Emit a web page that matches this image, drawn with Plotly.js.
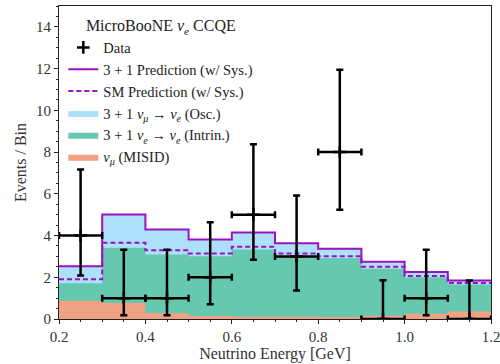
<!DOCTYPE html>
<html>
<head>
<meta charset="utf-8">
<script src="https://cdn.plot.ly/plotly-3.0.1.min.js"></script>
<style>html,body{margin:0;padding:0;background:#fff;}#chart{width:500px;height:364px;}</style>
</head>
<body>
<div id="chart"></div>
<script>
// Bin edges (GeV)
const binEdges = [0.2, 0.3, 0.4, 0.5, 0.6, 0.7, 0.8, 0.9, 1.0, 1.1, 1.2];
const binCenters = [0.25, 0.35, 0.45, 0.55, 0.65, 0.75, 0.85, 0.95, 1.05, 1.15];
// Stacked components (events / bin)
const misid  = [0.88, 0.77, 0.29, 0.14, 0.11, 0.11, 0.10, 0.16, 0.25, 0.36];
const intrin = [0.83, 2.64, 2.80, 2.87, 3.22, 2.86, 2.81, 2.25, 1.75, 1.29];
const osc    = [0.82, 1.60, 1.20, 0.80, 0.82, 0.66, 0.46, 0.33, 0.25, 0.20];
// SM prediction
const smPred = [1.90, 3.65, 3.30, 3.14, 3.46, 3.14, 3.01, 2.50, 2.06, 1.72];
// Data
const dataCounts = [4, 1, 1, 2, 5, 3, 8, 0, 1, 0];
const dataErrUp   = [3.16, 2.32, 2.32, 2.64, 3.38, 2.92, 3.94, 1.86, 2.32, 1.84];
const dataErrDown = [1.91, 0.82, 0.82, 1.29, 2.16, 1.63, 2.76, 0.0, 0.82, 0.0];
const binHalfWidth = 0.05;

const colOsc = '#ade0fa', colIntr = '#66c8ae', colMis = '#f0a184', colPurple = '#9a12c2';
const serif = 'Liberation Serif, Times New Roman, serif';

function step(vals) { return vals.concat([vals[vals.length - 1]]); }
const stackIntr = misid.map((v, i) => v + intrin[i]);
const stackTot = stackIntr.map((v, i) => v + osc[i]);

const traces = [
  {x: binEdges, y: step(stackTot), type: 'scatter', mode: 'lines', line: {shape: 'hv', width: 0, color: colOsc},
   fill: 'tozeroy', fillcolor: colOsc, name: '3 + 1 <i>ν<sub>μ</sub></i> → <i>ν<sub>e</sub></i> (Osc.)', legendrank: 4, hoverinfo: 'skip'},
  {x: binEdges, y: step(stackIntr), type: 'scatter', mode: 'lines', line: {shape: 'hv', width: 0, color: colIntr},
   fill: 'tozeroy', fillcolor: colIntr, name: '3 + 1 <i>ν<sub>e</sub></i> → <i>ν<sub>e</sub></i> (Intrin.)', legendrank: 5, hoverinfo: 'skip'},
  {x: binEdges, y: step(misid), type: 'scatter', mode: 'lines', line: {shape: 'hv', width: 0, color: colMis},
   fill: 'tozeroy', fillcolor: colMis, name: '<i>ν<sub>μ</sub></i> (MISID)', legendrank: 6, hoverinfo: 'skip'},
  {x: binEdges, y: step(stackTot), type: 'scatter', mode: 'lines', line: {shape: 'hv', width: 2, color: colPurple},
   name: '3 + 1 Prediction (w/ Sys.)', legendrank: 2},
  {x: binEdges, y: step(smPred), type: 'scatter', mode: 'lines', line: {shape: 'hv', width: 2, color: colPurple, dash: '5px,3px'},
   name: 'SM Prediction (w/ Sys.)', legendrank: 3},
  {x: binCenters, y: dataCounts, type: 'scatter', mode: 'markers', name: 'Data', legendrank: 1,
   marker: {symbol: 'cross-thin', size: 9, color: '#000', line: {width: 2.5, color: '#000'}},
   error_y: {type: 'data', symmetric: false, array: dataErrUp, arrayminus: dataErrDown, color: '#000', thickness: 2.5, width: 3.5},
   error_x: {type: 'constant', value: binHalfWidth, color: '#000', thickness: 2.5, width: 3.5}}
];

const layout = {
  width: 500, height: 364,
  margin: {l: 59, r: 9, t: 6, b: 45},
  paper_bgcolor: '#fff', plot_bgcolor: '#fff',
  font: {family: serif, size: 14.5, color: '#222'},
  showlegend: true,
  legend: {
    x: 0.01, y: 0.985, xanchor: 'left', yanchor: 'top',
    bgcolor: 'rgba(255,255,255,0)', borderwidth: 0,
    font: {family: serif, size: 14.5, color: '#222'},
    title: {text: 'MicroBooNE <i>ν<sub>e</sub></i> CCQE', side: 'top center', font: {family: serif, size: 16, color: '#222'}},
    tracegroupgap: 0, itemwidth: 30
  },
  xaxis: {
    range: [0.2, 1.2], dtick: 0.2, tick0: 0.2, tickformat: '.1f',
    ticks: 'outside', ticklen: 4, tickwidth: 1, tickcolor: '#222',
    minor: {dtick: 0.05, ticks: 'outside', ticklen: 2, tickwidth: 1, tickcolor: '#222'},
    showline: true, linecolor: '#222', linewidth: 1, mirror: true,
    showgrid: false, zeroline: false, ticklabeloverflow: 'allow',
    tickfont: {family: serif, size: 15, color: '#333'},
    title: {text: 'Neutrino Energy [GeV]', font: {family: serif, size: 16, color: '#333'}, standoff: 3}
  },
  yaxis: {
    range: [0, 15], dtick: 2, tick0: 0,
    ticks: 'outside', ticklen: 4, tickwidth: 1, tickcolor: '#222',
    minor: {dtick: 0.5, ticks: 'outside', ticklen: 2, tickwidth: 1, tickcolor: '#222'},
    showline: true, linecolor: '#222', linewidth: 1, mirror: true,
    showgrid: false, zeroline: false, ticklabeloverflow: 'allow',
    tickfont: {family: serif, size: 15, color: '#333'},
    title: {text: 'Events / Bin', font: {family: serif, size: 16, color: '#333'}, standoff: 5}
  }
};

Plotly.newPlot('chart', traces, layout, {displayModeBar: false, staticPlot: true});
</script>
</body>
</html>
